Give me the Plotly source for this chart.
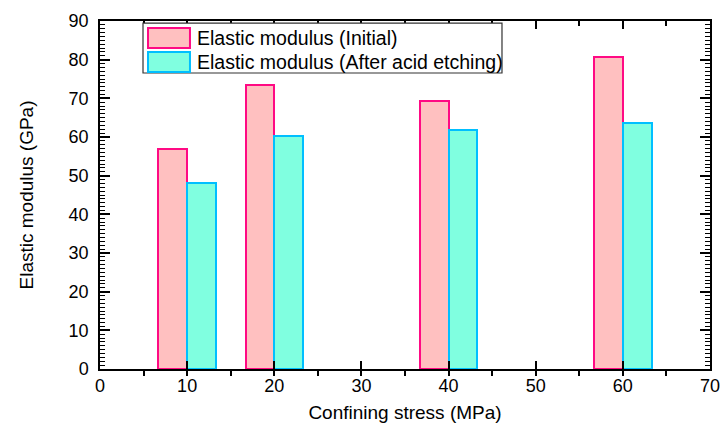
import plotly.graph_objects as go

confining_stress = [10, 20, 40, 60]
modulus_initial = [56.8, 73.5, 69.3, 80.6]
modulus_after = [48.0, 60.2, 61.7, 63.5]
series_names = ["Elastic modulus (Initial)", "Elastic modulus (After acid etching)"]
x_title = "Confining stress (MPa)"
y_title = "Elastic modulus (GPa)"

FONT = "Liberation Sans, Arial, sans-serif"
fill_init, line_init = "#FFC0C0", "#FF0A84"
fill_after, line_after = "#80FFE0", "#00BFFF"

fig = go.Figure()
fig.add_trace(go.Bar(x=confining_stress, y=modulus_initial, name=series_names[0],
                     width=3.3, offset=-3.3,
                     marker=dict(color=fill_init, line=dict(color=line_init, width=2)),
                     showlegend=False))
fig.add_trace(go.Bar(x=confining_stress, y=modulus_after, name=series_names[1],
                     width=3.3, offset=0,
                     marker=dict(color=fill_after, line=dict(color=line_after, width=2)),
                     showlegend=False))

axis_common = dict(showline=True, linecolor="black", linewidth=1.5, showgrid=False,
                   zeroline=False, tickcolor="black", automargin=False,
                   tickfont=dict(family=FONT, size=18, color="black"))

fig.update_layout(
    width=722, height=434,
    margin=dict(l=100, r=12, t=21, b=65),
    plot_bgcolor="white", paper_bgcolor="white",
    font=dict(family=FONT, color="black"),
    bargap=0,
    xaxis=dict(**axis_common, range=[0, 70], dtick=10, tick0=0, ticks="inside", ticklen=8,
               tickwidth=1.5, mirror=False,
               minor=dict(dtick=5, ticks="outside", ticklen=5, tickcolor="black", tickwidth=1.5),
               title=dict(text=x_title, font=dict(family=FONT, size=19), standoff=10)),
    xaxis2=dict(overlaying="x", side="top", range=[0, 70], showline=True, linecolor="black",
                linewidth=1.5, showgrid=False, zeroline=False, showticklabels=False,
                automargin=False,
                dtick=10, tick0=0, ticks="inside", ticklen=8, tickcolor="black", tickwidth=1.5,
                minor=dict(dtick=5, ticks="inside", ticklen=5, tickcolor="black", tickwidth=1.5)),
    yaxis=dict(**axis_common, range=[0, 90], dtick=10, tick0=0, ticks="inside", ticklen=10,
               tickwidth=1.5, mirror="ticks", ticklabelstandoff=6,
               minor=dict(dtick=1, ticks="inside", ticklen=5, tickcolor="black", tickwidth=1),
               title=dict(text=y_title, font=dict(family=FONT, size=19), standoff=30)),
)

# invisible trace so the top axis is drawn
fig.add_trace(go.Scatter(x=[0, 70], y=[0, 0], xaxis="x2", mode="markers",
                         marker=dict(opacity=0), showlegend=False, hoverinfo="skip"))

# custom legend (frame, swatches, labels)
fig.add_shape(type="rect", xref="paper", yref="paper", x0=0.0705, x1=0.659, y0=0.8506, y1=0.994,
              line=dict(color="#333333", width=1.2), fillcolor="white")
fig.add_shape(type="rect", xref="paper", yref="paper", x0=0.0787, x1=0.1475, y0=0.9224, y1=0.9799,
              line=dict(color=line_init, width=2), fillcolor=fill_init)
fig.add_shape(type="rect", xref="paper", yref="paper", x0=0.0787, x1=0.1475, y0=0.8534, y1=0.9109,
              line=dict(color=line_after, width=2), fillcolor=fill_after)
fig.add_annotation(xref="paper", yref="paper", x=0.156, y=0.951, text=series_names[0],
                   showarrow=False, xanchor="left", yanchor="middle",
                   font=dict(family=FONT, size=19.5, color="black"))
fig.add_annotation(xref="paper", yref="paper", x=0.156, y=0.882, text=series_names[1],
                   showarrow=False, xanchor="left", yanchor="middle",
                   font=dict(family=FONT, size=19.5, color="black"))

fig.write_html("out.html", config={"displayModeBar": False},
               post_script="document.body.style.margin='0';")
